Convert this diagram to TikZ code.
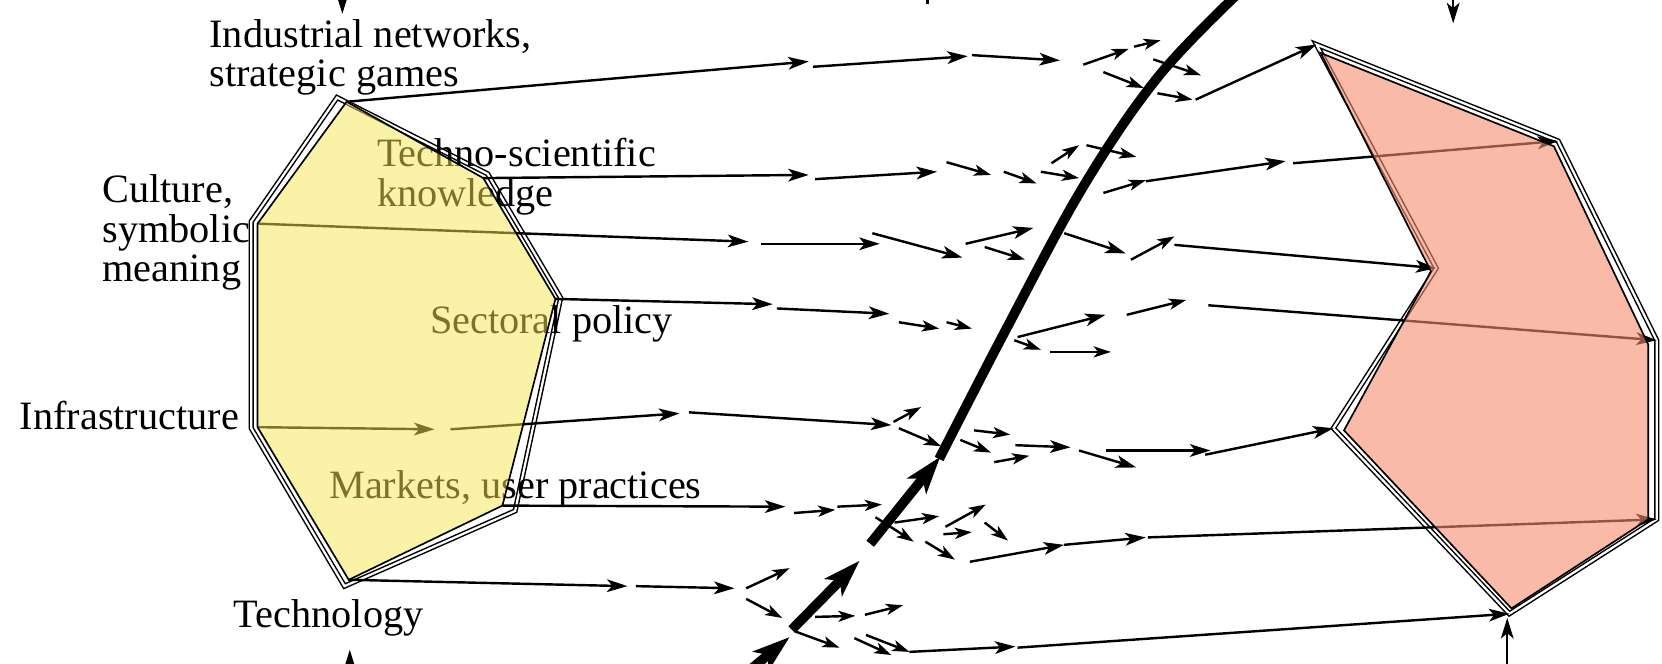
\documentclass[tikz,border=0pt]{standalone}
\usepackage{fontspec}
\setmainfont{Liberation Serif}
\usetikzlibrary{arrows.meta}
\definecolor{ylw}{RGB}{245,230,80}
\definecolor{slm}{RGB}{246,140,110}
\begin{document}
\begin{tikzpicture}[x=0.01cm,y=-0.01cm,
  font=\fontsize{10.8}{10.7}\selectfont,
  lbl/.style={inner sep=0pt, align=left, anchor=base west},
  arr/.style={line width=0.65pt, -{Stealth[length=5.5pt,width=3.4pt,inset=1.4pt]}},
  sarr/.style={line width=0.65pt, -{Stealth[length=4.6pt,width=3pt,inset=1.2pt]}},
  thk/.style={line width=2.6pt},
  tarr/.style={line width=2.6pt, -{Stealth[length=10pt,width=6.5pt,inset=2.5pt]}},
  outl/.style={draw=black, line width=0.4pt, double=white, double distance=0.6pt},
  yfill/.style={fill=ylw, fill opacity=0.5, draw=black, line width=0.45pt},
  sfill/.style={fill=slm, fill opacity=0.6, draw=black, line width=0.45pt}]
\useasboundingbox (0,0) rectangle (1568,626);
% left polygon vertices (outline)
\coordinate (LT) at (318,92);
\coordinate (LUR) at (460,164);
\coordinate (LR) at (529,281);
\coordinate (LMR) at (486,482);
\coordinate (LB) at (325,553);
\coordinate (LIL) at (237,404);
\coordinate (LCL) at (237,209);
% left polygon fill
\coordinate (lt) at (327,96);
\coordinate (lur) at (456,168);
\coordinate (lr) at (524,282);
\coordinate (lmr) at (474,477);
\coordinate (lb) at (329,547);
\coordinate (lil) at (243,403);
\coordinate (lcl) at (243,211);
% right polygon (outline)
\coordinate (RA) at (1242,42);
\coordinate (RB) at (1470,133);
\coordinate (RC) at (1563,321);
\coordinate (RD) at (1563,490);
\coordinate (RE) at (1424,579);
\coordinate (RF) at (1258,404);
\coordinate (RG) at (1355,253);
% right polygon fill
\coordinate (ra) at (1246,50);
\coordinate (rb) at (1466,138);
\coordinate (rc) at (1555,325);
\coordinate (rd) at (1555,490);
\coordinate (re) at (1426,574);
\coordinate (rf) at (1268,406);
\coordinate (rg) at (1350,256);

\draw[outl] (LT) -- (LUR) -- (LR) -- (LMR) -- (LB) -- (LIL) -- (LCL) -- cycle;
\draw[outl] (RA) -- (RB) -- (RC) -- (RD) -- (RE) -- (RF) -- (RG) -- cycle;

% labels (base = baseline of last line)
\node[lbl] (ind) at (197,82) {Industrial networks,\\strategic games};
\node[lbl] (tsk) at (355,195) {Techno-scientific\\knowledge};
\node[lbl] (cul) at (96,266) {Culture,\\symbolic\\meaning};
\node[lbl] (sec) at (405,315) {Sectoral policy};
\node[lbl] (inf) at (18,405) {Infrastructure};
\node[lbl] (mkt) at (310,470) {Markets, user practices};
\node[lbl] (tec) at (220,592) {Technology};

% row 1
\draw[arr] (lt) -- (763,58);
\draw[arr] (767,63) -- (913,53);
\draw[arr] (917,52) -- (1000,57);
\draw[sarr] (1022,61) -- (1065,46);
\draw[sarr] (1070,44) -- (1095,38);
\draw[sarr] (1088,56) -- (1133,71);
\draw[sarr] (1041,68) -- (1079,83);
\draw[sarr] (1092,88) -- (1125,94);
\draw[arr] (1128,94) -- (RA);
% row 2
\draw[arr] (lur) -- (763,165);
\draw[arr] (769,169) -- (884,162);
\draw[sarr] (893,153) -- (935,165);
\draw[sarr] (947,162) -- (978,173);
\draw[sarr] (982,162) -- (1018,168);
\draw[sarr] (992,154) -- (1018,137);
\draw[sarr] (1025,137) -- (1072,148);
\draw[sarr] (1041,182) -- (1081,170);
\draw[arr] (1081,171) -- (1213,152);
\draw[arr] (1220,154) -- (RB);
% row 3
\draw[arr] (lcl) -- (706,228);
\draw[arr] (718,230) -- (830,230);
\draw[arr] (823,220) -- (908,243);
\draw[arr] (911,230) -- (975,215);
\draw[sarr] (929,233) -- (967,245);
\draw[arr] (1004,220) -- (1062,239);
\draw[sarr] (1067,245) -- (1108,223);
\draw[arr] (1108,231) -- (RG);
% row 4
\draw[arr] (lr) -- (729,287);
\draw[arr] (733,291) -- (839,296);
\draw[sarr] (848,304) -- (886,310);
\draw[sarr] (893,304) -- (917,310);
\draw[arr] (960,318) -- (1043,297);
\draw[sarr] (1063,297) -- (1119,283);
\draw[arr] (1140,288) -- (RC);
\draw[sarr] (957,321) -- (982,330);
\draw[sarr] (991,332) -- (1048,332);
% row 5
\draw[arr] (lil) -- (410,405);
\draw[arr] (425,405) -- (641,390);
\draw[arr] (650,389) -- (841,401);
\draw[sarr] (843,398) -- (869,384);
\draw[sarr] (848,404) -- (888,421);
\draw[sarr] (919,406) -- (953,410);
\draw[sarr] (906,415) -- (935,427);
\draw[arr] (958,420) -- (1010,422);
\draw[sarr] (938,436) -- (971,430);
\draw[arr] (1018,425) -- (1072,441);
\draw[arr] (1043,425) -- (1142,425);
\draw[arr] (1137,429) -- (RF);
% row 6
\draw[arr] (lmr) -- (741,478);
\draw[sarr] (749,484) -- (788,481);
\draw[sarr] (790,478) -- (832,476);
\draw[sarr] (826,488) -- (862,511);
\draw[sarr] (844,493) -- (886,487);
\draw[sarr] (892,497) -- (930,476);
\draw[sarr] (890,504) -- (917,502);
\draw[sarr] (929,493) -- (951,510);
\draw[sarr] (873,511) -- (901,528);
\draw[arr] (915,530) -- (1004,514);
\draw[arr] (1004,514) -- (1081,507);
\draw[arr] (1083,507) -- (RD);
% row 7
\draw[arr] (lb) -- (592,553);
\draw[arr] (600,553) -- (693,555);
\draw[sarr] (704,555) -- (745,536);
\draw[sarr] (704,565) -- (738,583);
\draw[sarr] (769,582) -- (807,581);
\draw[sarr] (816,580) -- (852,571);
\draw[sarr] (751,596) -- (792,611);
\draw[sarr] (806,602) -- (841,618);
\draw[sarr] (817,599) -- (858,615);
\draw[arr] (858,615) -- (958,610);
\draw[arr] (960,611) -- (RE);
% edge arrows
\draw[arr] (323,-20) -- (323,13);
\draw[line width=0.6pt] (875,-5) -- (875,4);
\draw[arr] (1371,-20) -- (1371,22);
\draw[arr] (330,650) -- (330,613);
\draw[arr] (1422,650) -- (1422,583);
% thick curve
\draw[thk] plot[smooth, tension=0.6] coordinates {(886,433) (949,311) (1022,176) (1093,72) (1170,-8)};
\draw[tarr] (821,513) -- (887,431);
\draw[tarr] (747,594) -- (811,529);
\draw[tarr] (710,630) -- (745,601);
% translucent fills
\draw[yfill] (lt) -- (lur) -- (lr) -- (lmr) -- (lb) -- (lil) -- (lcl) -- cycle;
\draw[sfill] (ra) -- (rb) -- (rc) -- (rd) -- (re) -- (rf) -- (rg) -- cycle;
\end{tikzpicture}
\end{document}
